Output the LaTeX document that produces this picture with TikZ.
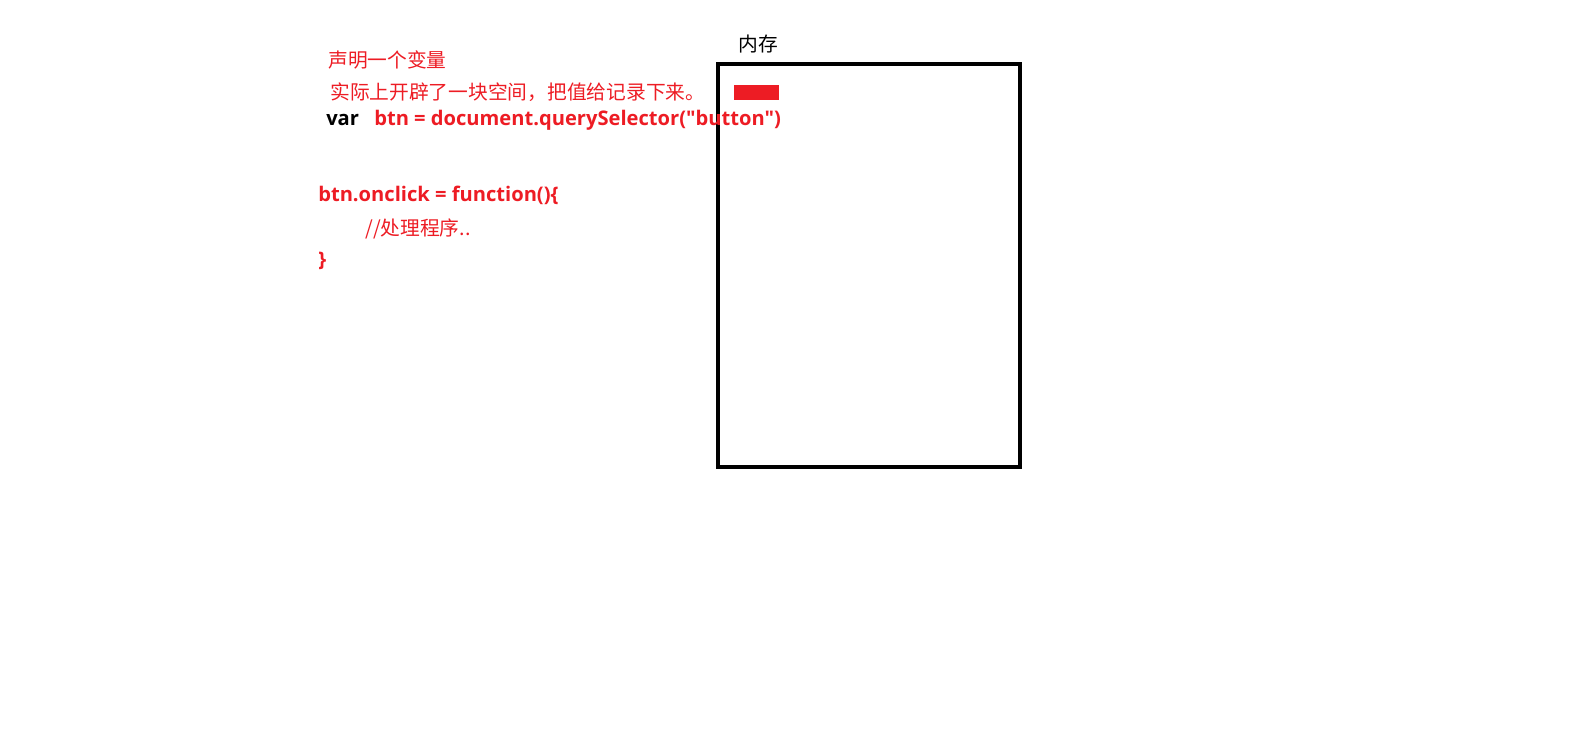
\documentclass[tikz,border=0pt]{standalone}
\usepackage{fontspec}
\setmainfont{Open Sans}
\newfontfamily\codefont{Open Sans}[Ligatures=TeXOff]
\newfontfamily\cjk{Noto Sans CJK SC}
\definecolor{pred}{HTML}{ED1C24}
\begin{document}
\begin{tikzpicture}[x=0.75pt,y=-0.75pt,
  cn/.style={inner sep=0pt,anchor=west,font=\cjk\fontsize{14.8pt}{16pt}\selectfont},
  code/.style={inner sep=0pt,anchor=base west,font=\codefont\bfseries\fontsize{15.1pt}{17pt}\selectfont}]
\useasboundingbox (0,0) rectangle (1594,737);
\draw[line width=3pt] (718,64) rectangle (1020,467);
\fill[pred] (734,85) rectangle (779,100);
\node[cn] (mem) at (738,44) {内存};
\node[cn,text=pred] (decl) at (328,60) {声明一个变量};
\node[cn,text=pred] (real) at (330,92) {实际上开辟了一块空间，把值给记录下来。};
\node[code] (var) at (326,126) {var};
\node[code,text=pred] (btn) at (374,126) {btn = document.querySelector("button")};
\node[code,text=pred] (onclick) at (318,202) {btn.onclick = function()\{};
\node[cn,text=pred] (body) at (365,229) {//处理程序..};
\node[code,text=pred] (close) at (318,267) {\}};
\end{tikzpicture}
\end{document}
